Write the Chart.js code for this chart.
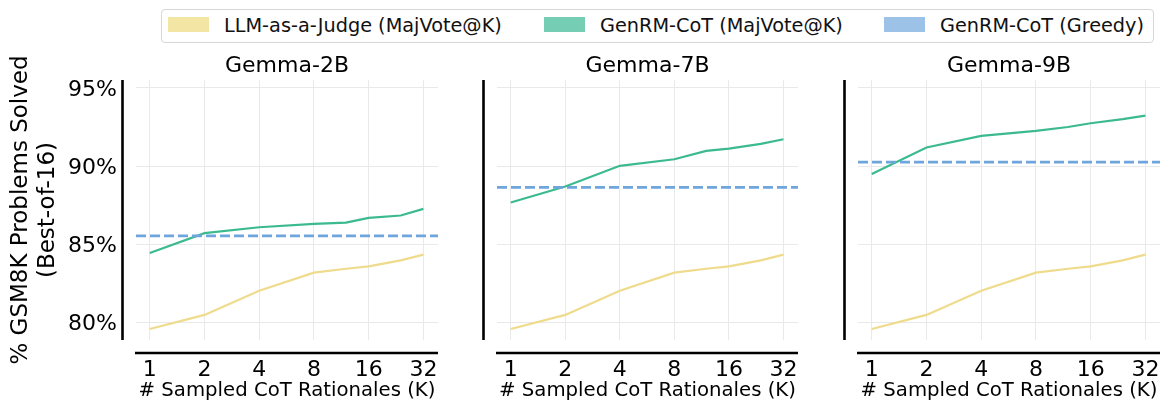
<!DOCTYPE html>
<html>
<head>
<meta charset="utf-8">
<script src="https://cdn.jsdelivr.net/npm/chart.js@4"></script>
<style>
  body { margin: 0; background: #fff; font-family: "DejaVu Sans", sans-serif; }
  #wrap { position: relative; width: 1164px; height: 404px; overflow: hidden; background: #fff; }
  #wrap canvas { position: absolute; top: 50px; }
  .legend { position: absolute; left: 161px; top: 9px; width: 991px; height: 32px;
            border: 1px solid #d6d6d6; border-radius: 4px; }
  .sw { position: absolute; top: 7px; width: 41px; height: 15px; }
  .lbl { position: absolute; top: 0; line-height: 32px; font-size: 19.3px; color: #111; white-space: nowrap; }
</style>
</head>
<body>
<div id="wrap">
  <div class="legend">
    <div class="sw" style="left:6px;background:#f3e5a3"></div>
    <div class="lbl" style="left:62px">LLM-as-a-Judge (MajVote@K)</div>
    <div class="sw" style="left:382px;background:#75ceb3"></div>
    <div class="lbl" style="left:438px">GenRM-CoT (MajVote@K)</div>
    <div class="sw" style="left:722px;background:#9dc2e7"></div>
    <div class="lbl" style="left:778px">GenRM-CoT (Greedy)</div>
  </div>
  <canvas id="p1" width="450" height="354" style="left:0px"></canvas>
  <canvas id="p2" width="360" height="354" style="left:450px"></canvas>
  <canvas id="p3" width="354" height="354" style="left:810px"></canvas>
</div>
<script>
// values
const K_VALUES = [1, 2, 4, 8, 12, 16, 24, 32];
const X_TICKS = [1, 2, 4, 8, 16, 32];
const Y_TICKS = [80, 85, 90, 95];
const MODELS = ["Gemma-2B", "Gemma-7B", "Gemma-9B"];

const judge2B = [79.6, 80.5, 82.05, 83.2, 83.45, 83.6, 83.98, 84.35];
const judge7B = [79.6, 80.5, 82.05, 83.2, 83.45, 83.6, 83.98, 84.35];
const judge9B = [79.6, 80.5, 82.05, 83.2, 83.45, 83.6, 83.98, 84.35];

const cot2B = [84.45, 85.72, 86.1, 86.32, 86.4, 86.7, 86.85, 87.27];
const cot7B = [87.68, 88.7, 90.02, 90.44, 90.97, 91.12, 91.42, 91.72];
const cot9B = [89.5, 91.19, 91.93, 92.25, 92.5, 92.74, 93.0, 93.23];

const greedyCot = [85.55, 88.64, 90.26];

const X_MIN = 0.84;
const X_MAX = 38.5;
const Y_MIN = 78.9;
const Y_MAX = 95.5;

const YELLOW = "#efdb8c";
const GREEN = "#3cba8f";
const BLUE = "#6ea5dd";
const GRID = "#e9e9e9";

Chart.defaults.font.family = "'DejaVu Sans', sans-serif";
Chart.defaults.color = "#000";

// offset spines (detached left and bottom axis lines)
const spines = {
  id: "spines",
  afterDraw(chart) {
    const { ctx, chartArea: a } = chart;
    ctx.save();
    ctx.strokeStyle = "#000";
    ctx.lineWidth = 2.6;
    ctx.beginPath();
    ctx.moveTo(a.left - 13.5, a.top);
    ctx.lineTo(a.left - 13.5, a.bottom);
    ctx.moveTo(a.left - 1, a.bottom + 13);
    ctx.lineTo(a.right, a.bottom + 13);
    ctx.stroke();
    ctx.restore();
  },
};

function toPoints(values) {
  return K_VALUES.map((k, i) => ({ x: k, y: values[i] }));
}

function createPanel(id, title, judge, cot, greedy, yWidth, padRight, first) {
  const ctx = document.getElementById(id).getContext("2d");
  return new Chart(ctx, {
    type: "line",
    data: {
      datasets: [
        {
          label: "LLM-as-a-Judge (MajVote@K)",
          data: toPoints(judge),
          borderColor: YELLOW,
          borderWidth: 2.2,
          pointRadius: 0,
          tension: 0,
          order: 2,
        },
        {
          label: "GenRM-CoT (MajVote@K)",
          data: toPoints(cot),
          borderColor: GREEN,
          borderWidth: 2.2,
          pointRadius: 0,
          tension: 0,
          order: 1,
        },
        {
          label: "GenRM-CoT (Greedy)",
          data: [
            { x: X_MIN, y: greedy },
            { x: X_MAX, y: greedy },
          ],
          borderColor: BLUE,
          borderWidth: 2.8,
          borderDash: [10, 4],
          pointRadius: 0,
          order: 0,
        },
      ],
    },
    options: {
      responsive: false,
      animation: false,
      layout: { padding: { left: 0, right: padRight, top: 0, bottom: 0 } },
      plugins: {
        legend: { display: false },
        tooltip: { enabled: false },
        title: {
          display: true,
          text: title,
          fullSize: false,
          font: { size: 22, weight: "normal" },
          color: "#000",
          padding: { top: 2.8, bottom: 0.8 },
        },
      },
      scales: {
        x: {
          type: "logarithmic",
          min: X_MIN,
          max: X_MAX,
          afterBuildTicks: (scale) => {
            scale.ticks = X_TICKS.map((v) => ({ value: v }));
          },
          afterFit: (scale) => {
            scale.height = 64;
          },
          // invisible tick marks push the labels down without widening the layout
          grid: { color: GRID, lineWidth: 1, drawTicks: true, tickLength: 14, tickColor: "rgba(0,0,0,0)" },
          border: { display: false },
          ticks: {
            font: { size: 22 },
            color: "#000",
            padding: 2.8,
            maxRotation: 0,
            autoSkip: false,
            callback: (v) => String(v),
          },
          title: {
            display: true,
            text: "# Sampled CoT Rationales (K)",
            font: { size: 19.7 },
            color: "#000",
            padding: { top: 0, bottom: 1 },
          },
        },
        y: {
          type: "linear",
          min: Y_MIN,
          max: Y_MAX,
          afterBuildTicks: (scale) => {
            scale.ticks = Y_TICKS.map((v) => ({ value: v }));
          },
          afterFit: (scale) => {
            scale.width = yWidth;
          },
          grid: { color: GRID, lineWidth: 1, drawTicks: true, tickLength: 16, tickColor: "rgba(0,0,0,0)" },
          border: { display: false },
          ticks: {
            display: first,
            font: { size: 22 },
            color: "#000",
            padding: 3,
            labelOffset: 2,
            callback: (v) => v + "%",
          },
          title: {
            display: first,
            text: ["% GSM8K Problems Solved", "(Best-of-16)"],
            font: { size: 23, lineHeight: "27px" },
            color: "#000",
            padding: { top: 7.5, bottom: 0 },
          },
        },
      },
    },
    plugins: [spines],
  });
}

createPanel("p1", MODELS[0], judge2B, cot2B, greedyCot[0], 136, 12, true);
createPanel("p2", MODELS[1], judge7B, cot7B, greedyCot[1], 47, 12, false);
createPanel("p3", MODELS[2], judge9B, cot9B, greedyCot[2], 48, 4, false);
</script>
</body>
</html>
